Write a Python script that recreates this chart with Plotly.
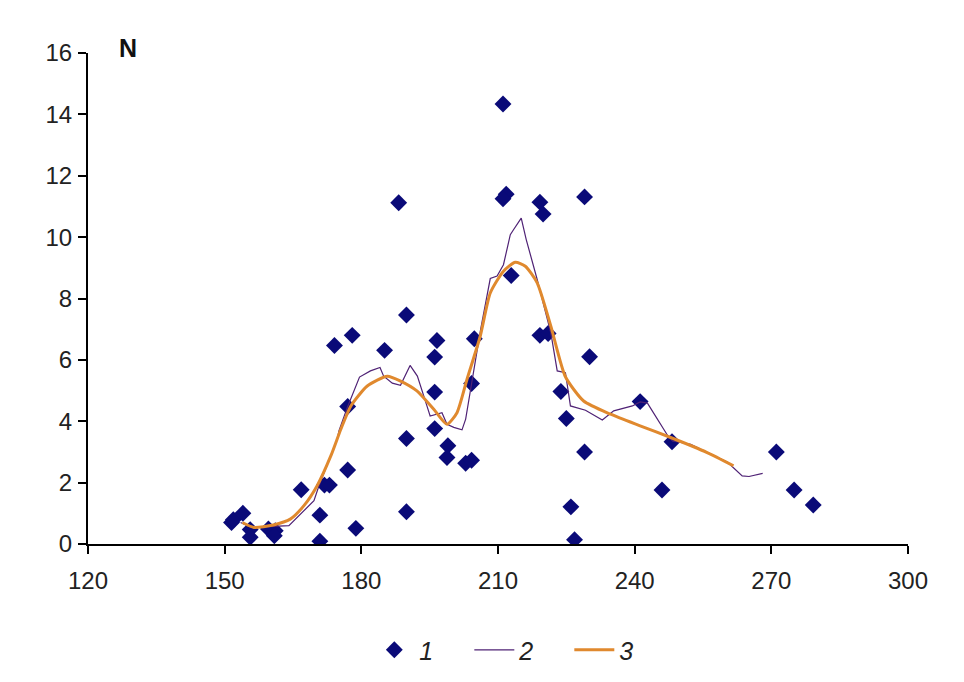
"""
Distribution N : points mesurés (1), moyenne glissante (2) et courbe lissée (3).
"""

import plotly.graph_objects as go

# Série 1 : points mesurés
pts_x = [151.5, 151.9, 154.0, 155.6, 155.6, 159.6, 161.1, 160.9, 166.8, 170.9,
         170.9, 171.9, 173.0, 177.0, 177.0, 174.1, 178.0, 178.8, 185.1, 188.2,
         189.9, 189.9, 189.9, 196.6, 196.1, 196.1, 196.1, 199.0, 198.8, 202.9,
         204.2, 204.2, 204.8, 211.1, 211.8, 211.1, 219.2, 219.9, 229.0, 212.9,
         219.2, 221.0, 230.1, 223.8, 225.0, 229.0, 226.0, 226.8, 241.2, 248.2,
         246.0, 271.1, 275.0, 279.2]
pts_y = [0.70, 0.79, 1.00, 0.47, 0.22, 0.49, 0.43, 0.27, 1.77, 0.94,
         0.09, 1.92, 1.92, 2.41, 4.48, 6.47, 6.80, 0.51, 6.31, 11.12,
         7.46, 3.44, 1.05, 6.63, 6.09, 4.95, 3.76, 3.20, 2.82, 2.63,
         2.73, 5.23, 6.69, 14.34, 11.40, 11.25, 11.14, 10.75, 11.31, 8.75,
         6.80, 6.86, 6.10, 4.97, 4.09, 3.00, 1.21, 0.14, 4.64, 3.33,
         1.76, 3.00, 1.76, 1.27]

# Série 2 : moyenne glissante
avg_x = [153.5, 155.8, 164.1, 169.6, 170.7, 174.7, 175.1, 176.9, 179.6, 182.0,
         184.1, 184.9, 186.8, 188.6, 190.7, 192.3, 194.4, 195.1, 197.7, 198.8,
         200.3, 202.1, 202.9, 204.0, 206.2, 208.3, 209.8, 211.2, 212.7, 213.4,
         215.1, 216.2, 218.6, 221.6, 223.0, 224.8, 225.9, 229.2, 232.9, 235.4,
         239.5, 241.2, 242.8, 247.3, 248.3, 252.3, 260.4, 263.6, 265.1, 268.1]
avg_y = [0.70, 0.54, 0.60, 1.41, 1.90, 3.41, 3.69, 4.44, 5.44, 5.64,
         5.75, 5.47, 5.24, 5.17, 5.82, 5.47, 4.50, 4.17, 4.28, 3.90,
         3.80, 3.72, 4.07, 5.04, 7.00, 8.65, 8.73, 9.10, 10.08, 10.24,
         10.62, 9.92, 8.62, 6.88, 5.64, 5.58, 4.50, 4.36, 4.04, 4.34,
         4.50, 4.63, 4.59, 3.52, 3.36, 3.25, 2.66, 2.22, 2.20, 2.30]

# Série 3 : courbe lissée
fit_x = [153.9, 156.4, 160.7, 164.4, 167.4, 170.3, 173.3, 175.5, 177.7, 181.3,
         185.7, 188.6, 192.2, 195.9, 198.8, 201.0, 203.2, 206.1, 208.3, 211.2,
         213.8, 216.0, 218.6, 221.6, 224.8, 228.8, 234.7, 241.2, 247.9, 255.9,
         261.7]
fit_y = [0.70, 0.54, 0.62, 0.81, 1.25, 1.90, 2.87, 3.74, 4.50, 5.15,
         5.47, 5.31, 4.99, 4.39, 3.90, 4.28, 5.37, 6.77, 8.18, 8.89,
         9.18, 9.05, 8.51, 7.10, 5.45, 4.66, 4.23, 3.85, 3.47, 2.98,
         2.55]

x_ticks = [120, 150, 180, 210, 240, 270, 300]
y_ticks = [0, 2, 4, 6, 8, 10, 12, 14, 16]

FONT = "Liberation Sans, Arial"

fig = go.Figure()

fig.add_trace(go.Scatter(
    x=pts_x, y=pts_y, mode="markers", name="<i>1</i>",
    marker=dict(symbol="diamond", size=13, color="#0a0a78")
))
fig.add_trace(go.Scatter(
    x=avg_x, y=avg_y, mode="lines", name="<i>2</i>",
    line=dict(color="#4f2275", width=1.2)
))
fig.add_trace(go.Scatter(
    x=fit_x, y=fit_y, mode="lines", name="<i>3</i>",
    line=dict(color="#e0892e", width=3, shape="spline", smoothing=0.6)
))

axis_style = dict(
    showline=True, linecolor="black", linewidth=2,
    ticks="outside", ticklen=8, tickwidth=1.5, tickcolor="black",
    showgrid=False, zeroline=False,
    tickfont=dict(family=FONT, size=24, color="#222222"),
)

fig.update_xaxes(range=[120, 300], tickvals=x_ticks, ticklabelstandoff=6, **axis_style)
fig.update_yaxes(range=[0, 16], tickvals=y_ticks, ticklabelstandoff=1, **axis_style)

fig.add_annotation(
    text="<b>N</b>", xref="paper", yref="paper", x=0.049, y=1.01,
    xanchor="center", yanchor="middle",
    showarrow=False, font=dict(family=FONT, size=25, color="#111111")
)

# la page ajoute une marge de 8 px autour du graphique
fig.update_layout(
    width=964, height=682,
    margin=dict(l=80, r=64, t=45, b=146),
    plot_bgcolor="white", paper_bgcolor="white",
    showlegend=True,
    legend=dict(
        orientation="h", x=0.526, y=-0.216, xanchor="center", yanchor="middle",
        font=dict(family=FONT, size=25, color="#222222"),
        itemwidth=40, entrywidth=45,
    ),
)

fig.write_html("out.html")
